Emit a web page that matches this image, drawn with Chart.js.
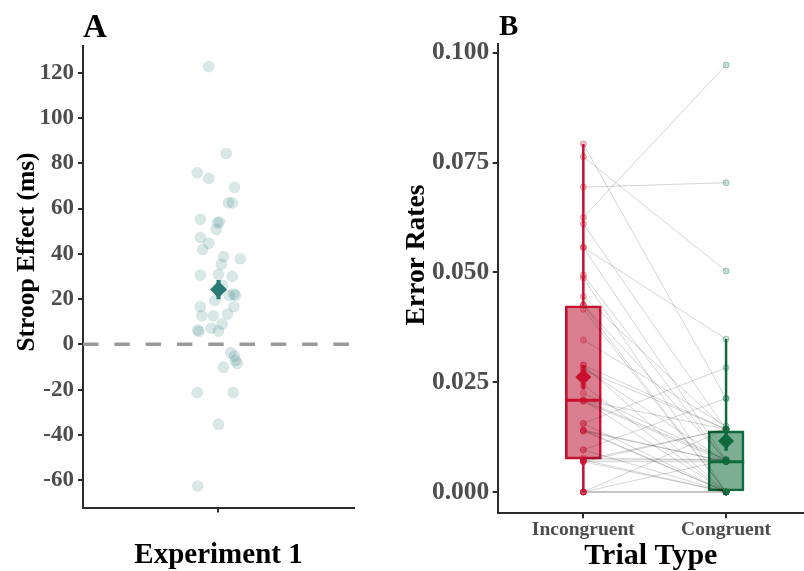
<!DOCTYPE html>
<html><head><meta charset="utf-8">
<script src="https://cdn.jsdelivr.net/npm/chart.js@4.4.1/dist/chart.umd.min.js"></script>
<style>
html,body{margin:0;padding:0;background:#fff;}
#wrap{position:relative;width:804px;height:571px;overflow:hidden;background:#fff;}
#cA{position:absolute;left:0;top:0;}
#cB{position:absolute;left:400px;top:0;}
</style></head><body>
<div id="wrap"><canvas id="cA" width="400" height="571"></canvas><canvas id="cB" width="404" height="571"></canvas></div>
<script>
// ---------- Panel A data ----------
const experimentLabel = 'Experiment 1';
const stroopEffect = [122.7, 84.3, 75.8, 73.3, 69.3, 62.5, 62.5, 55.2, 54.1, 53.7, 50.8, 47.2, 44.6, 41.9, 38.7,
  37.8, 35.3, 30.6, 30.9, 30.0, 26.0, 22.2, 21.6, 21.6, 19.3, 16.6, 16.6, 12.6, 12.6, 13.4, 9.0, 7.1, 6.3, 5.7, 5.9,
  -3.7, -5.2, -7.2, -8.4, -10.1, -21.3, -21.3, -35.3, -62.6];
// horizontal jitter of each point (category units)
const stroopJitter = [-0.043, 0.034, -0.094, -0.043, 0.071, 0.044, 0.062, -0.080, 0.004, -0.004, -0.010, -0.080, -0.043, -0.070, 0.023,
  0.096, 0.012, -0.080, 0.000, 0.061, 0.018, 0.068, 0.075, 0.047, -0.016, -0.081, 0.068, -0.074, -0.023, 0.040, 0.016, -0.032, -0.092, -0.087, 0.000,
  0.054, 0.071, 0.075, 0.083, 0.022, -0.094, 0.065, 0.000, -0.092];
const stroopMean = 24.2;
const stroopCI = [19.9, 28.4];
const stroopTicks = [-60, -40, -20, 0, 20, 40, 60, 80, 100, 120];

// ---------- Panel B data ----------
const trialTypes = ['Incongruent', 'Congruent'];
const errIncongruent = [0.0792, 0.0763, 0.0694, 0.0625, 0.0610, 0.0557, 0.0557, 0.0494, 0.0487, 0.0445, 0.0426, 0.0416,
  0.0346, 0.0289, 0.0282, 0.0278, 0.0243, 0.0225, 0.0209, 0.0209, 0.0206, 0.0156, 0.0141, 0.0139, 0.0139, 0.0096,
  0.0077, 0.0073, 0.0073, 0.0069, 0.0069, 0.0, 0.0, 0.0, 0.0,
  0.0141, 0.0096, 0.0073, 0.0209, 0.0156, 0.0289, 0.0, 0.0069, 0.0426];
const errCongruent = [0.0213, 0.0503, 0.0704, 0.0972, 0.0143, 0.0348, 0.0073, 0.0069, 0.0, 0.0143, 0.0073, 0.0,
  0.0150, 0.0, 0.0069, 0.0143, 0.0, 0.0073, 0.0, 0.0143, 0.0069, 0.0283, 0.0, 0.0069, 0.0, 0.0213,
  0.0073, 0.0, 0.0143, 0.0, 0.0069, 0.0, 0.0143, 0.0073, 0.0,
  0.0069, 0.0, 0.0073, 0.0073, 0.0, 0.0143, 0.0, 0.0143, 0.0];
const boxMin = [0.0, 0.0];
const boxQ1 = [0.0075, 0.0];
const boxMedian = [0.0209, 0.0069];
const boxQ3 = [0.0424, 0.0139];
const boxMax = [0.0792, 0.0348];
const errMean = [0.0262, 0.0116];
const errLow = [0.0234, 0.0094];
const errHigh = [0.0289, 0.0138];
const errTicks = [0, 0.025, 0.05, 0.075, 0.1];

// ---------- styling ----------
const FONT = '"Liberation Serif", "Times New Roman", serif';
Chart.defaults.font.family = FONT;
const AXIS = '#2b2b2b';
const TICKTXT = '#4d4d4d';
const TEAL = '#2a7b78';
const RED = '#C8102E';
const GREEN = '#106b3c';
const BOX_FILL = ['rgba(192,34,62,0.58)', 'rgba(16,107,60,0.55)'];
const BOX_LINE = [RED, GREEN];
const PT_FILL = ['rgba(200,16,46,0.25)', 'rgba(16,107,60,0.22)'];
const PT_LINE = ['rgba(200,16,46,0.35)', 'rgba(16,107,60,0.30)'];

const panelText = {
  id: 'panelText',
  afterDraw(chart, args, o) {
    const ctx = chart.ctx;
    ctx.save();
    ctx.fillStyle = '#000';
    ctx.font = 'bold ' + o.letterSize + 'px ' + FONT;
    ctx.textAlign = 'left';
    ctx.textBaseline = 'alphabetic';
    ctx.fillText(o.letter, o.letterX, o.letterY);
    ctx.font = 'bold ' + o.titleSize + 'px ' + FONT;
    ctx.translate(o.titleX, o.titleY);
    ctx.rotate(-Math.PI / 2);
    ctx.textAlign = 'center';
    ctx.textBaseline = 'middle';
    ctx.fillText(o.title, 0, 0);
    ctx.restore();
  }
};

function axisGrid() {
  return {display: true, drawOnChartArea: false, drawTicks: true, tickLength: 5, color: AXIS, lineWidth: 2, offset: false};
}

// ---------- Panel A ----------
const ptsA = stroopEffect.map((v, i) => ({x: 1 + stroopJitter[i], y: v}));
new Chart(document.getElementById('cA'), {
  type: 'line',
  data: {
    datasets: [
      {type: 'line', data: [{x: 0.4, y: 0}, {x: 1.6, y: 0}], borderColor: '#9a9a9a', borderWidth: 3.5,
        borderDash: [15.5, 15.8], pointRadius: 0, order: 50},
      {type: 'scatter', data: ptsA, backgroundColor: 'rgba(42,123,120,0.18)', borderColor: 'rgba(42,123,120,0.06)',
        borderWidth: 1, pointRadius: 5.6, order: 40},
      {type: 'line', data: [{x: 1, y: stroopCI[0]}, {x: 1, y: stroopCI[1]}], borderColor: TEAL, borderWidth: 4,
        pointRadius: 0, order: 20},
      {type: 'scatter', data: [{x: 1, y: stroopMean}], pointStyle: 'rectRot', pointRadius: 8.5,
        backgroundColor: TEAL, borderColor: TEAL, borderWidth: 0, order: 10}
    ]
  },
  options: {
    responsive: false, animation: false, devicePixelRatio: 1,
    layout: {autoPadding: false, padding: {top: 46, right: 46, bottom: 0, left: 0}},
    plugins: {
      legend: {display: false}, tooltip: {enabled: false},
      panelText: {letter: 'A', letterSize: 33, letterX: 83, letterY: 36.5,
        title: 'Stroop Effect (ms)', titleSize: 25.5, titleX: 27, titleY: 252}
    },
    scales: {
      x: {
        type: 'linear', min: 0.4, max: 1.6, offset: false,
        afterFit: s => { s.height = 63.5; },
        afterBuildTicks: s => { s.ticks = [{value: 1}]; },
        ticks: {callback: () => '', padding: 0},
        grid: axisGrid(),
        border: {display: true, color: AXIS, width: 2},
        title: {display: true, text: experimentLabel, color: '#000',
          font: {size: 29, weight: 'bold', lineHeight: 1}, padding: {top: 0, bottom: 1}}
      },
      y: {
        type: 'linear', min: -72.1, max: 131.8,
        afterFit: s => { s.width = 83; },
        afterBuildTicks: s => { s.ticks = stroopTicks.map(v => ({value: v})); },
        ticks: {callback: v => String(v), color: TICKTXT, padding: 4, font: {size: 23, weight: 'bold'}},
        grid: axisGrid(),
        border: {display: true, color: AXIS, width: 2}
      }
    }
  },
  plugins: [panelText]
});

// ---------- Panel B ----------
const HALF_BOX = 0.127; // half box width in category units
const dsB = [];
// boxes
dsB.push({type: 'bar', data: trialTypes.map((t, i) => ({x: i + 1, y: [boxQ1[i], boxQ3[i]]})),
  backgroundColor: BOX_FILL, borderColor: BOX_LINE, borderWidth: 2, borderSkipped: false,
  barThickness: 36, order: 60});
// paired lines
errIncongruent.forEach((v, i) => {
  dsB.push({type: 'line', data: [{x: 1, y: v}, {x: 2, y: errCongruent[i]}],
    borderColor: 'rgba(0,0,0,0.17)', borderWidth: 1, pointRadius: 0, order: 50});
});
trialTypes.forEach((t, i) => {
  const c = i + 1;
  // whiskers
  dsB.push({type: 'line', data: [{x: c, y: boxQ3[i]}, {x: c, y: boxMax[i]}, {x: c, y: null}, {x: c, y: boxQ1[i]}, {x: c, y: boxMin[i]}],
    borderColor: BOX_LINE[i], borderWidth: 2.5, pointRadius: 0, spanGaps: false, order: 45});
  // median
  dsB.push({type: 'line', data: [{x: c - HALF_BOX, y: boxMedian[i]}, {x: c + HALF_BOX, y: boxMedian[i]}],
    borderColor: BOX_LINE[i], borderWidth: 3, pointRadius: 0, order: 44});
  // raw points
  const vals = i === 0 ? errIncongruent : errCongruent;
  dsB.push({type: 'scatter', data: vals.map(v => ({x: c, y: v})), pointRadius: 3,
    backgroundColor: PT_FILL[i], borderColor: PT_LINE[i], borderWidth: 1, order: 30});
  // mean error bar
  dsB.push({type: 'line', data: [{x: c, y: errLow[i]}, {x: c, y: errHigh[i]}],
    borderColor: BOX_LINE[i], borderWidth: 3.5, pointRadius: 0, order: 20});
  // mean diamond
  dsB.push({type: 'scatter', data: [{x: c, y: errMean[i]}], pointStyle: 'rectRot', pointRadius: 8,
    backgroundColor: BOX_LINE[i], borderWidth: 0, order: 10});
});

new Chart(document.getElementById('cB'), {
  type: 'line',
  data: {datasets: dsB},
  options: {
    responsive: false, animation: false, devicePixelRatio: 1,
    layout: {autoPadding: false, padding: {top: 44, right: 0, bottom: 0, left: 0}},
    plugins: {
      legend: {display: false}, tooltip: {enabled: false},
      panelText: {letter: 'B', letterSize: 29, letterX: 99, letterY: 35,
        title: 'Error Rates', titleSize: 27.5, titleX: 16.5, titleY: 255}
    },
    scales: {
      x: {
        type: 'linear', min: 0.4, max: 2.546, offset: false,
        afterFit: s => { s.height = 57.7; },
        afterBuildTicks: s => { s.ticks = trialTypes.map((t, i) => ({value: i + 1})); },
        ticks: {callback: v => trialTypes[Math.round(v) - 1] || '', color: TICKTXT, padding: 0,
          font: {size: 19.5, weight: 'bold'}},
        grid: axisGrid(),
        border: {display: true, color: AXIS, width: 2},
        title: {display: true, text: 'Trial Type', color: '#000',
          font: {size: 30, weight: 'bold', lineHeight: 1}, padding: {top: 0, bottom: 0}}
      },
      y: {
        type: 'linear', min: -0.00485, max: 0.10198,
        afterFit: s => { s.width = 97.7; },
        afterBuildTicks: s => { s.ticks = errTicks.map(v => ({value: v})); },
        ticks: {callback: v => Number(v).toFixed(3), color: TICKTXT, padding: 3.4, font: {size: 25.5, weight: 'bold'}},
        grid: axisGrid(),
        border: {display: true, color: AXIS, width: 2}
      }
    }
  },
  plugins: [panelText]
});
</script>
</body></html>
